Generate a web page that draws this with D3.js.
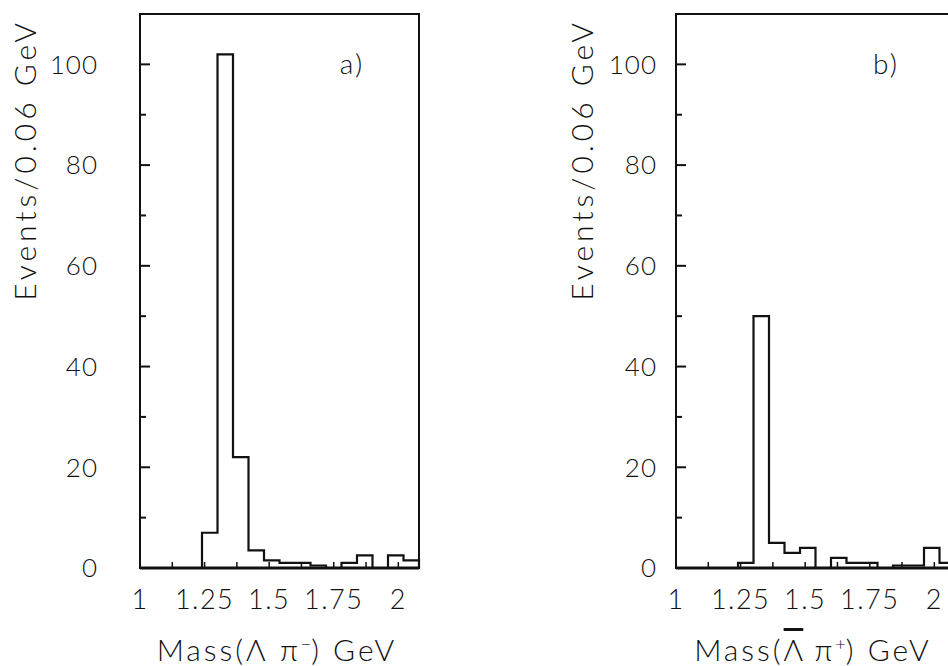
<!DOCTYPE html>
<html>
<head>
<meta charset="utf-8">
<script src="https://cdn.jsdelivr.net/npm/d3@7/dist/d3.min.js"></script>
<style>
  html, body { margin: 0; padding: 0; background: #fff; }
  svg { display: block; font-family: Lato, 'Open Sans', 'DejaVu Sans', sans-serif; font-weight: 300; }
</style>
</head>
<body>
<div id="chart"></div>
<script>
// bin lower edges (GeV), 0.06 GeV wide
const binLow = [1.00, 1.06, 1.12, 1.18, 1.24, 1.30, 1.36, 1.42, 1.48, 1.54,
                1.60, 1.66, 1.72, 1.78, 1.84, 1.90, 1.96, 2.02];
const binWidth = 0.06;

// a) Lambda pi-   b) anti-Lambda pi+
const countsA = [0, 0, 0, 0, 7, 102, 22, 3.5, 1.5, 1, 1, 0.5, 0, 1, 2.5, 0, 2.5, 1.5];
const countsB = [0, 0, 0, 0, 1, 50, 5, 3, 4, 0, 2, 1, 1, 0, 0.5, 0.5, 4, 1];

const yMajor = [0, 20, 40, 60, 80, 100];
const yMinor = [10, 30, 50, 70, 90];
const xLabels = [1, 1.25, 1.5, 1.75, 2];
const xTicks = [1.125, 1.25, 1.375, 1.5, 1.625, 1.75, 1.875, 2];

const W = 948, H = 666;
const plotTop = 14, plotBottom = 568, plotW = 279;

const panels = [
  { left: 140, counts: countsA, tag: 'a)', tagX: 352, labelGap: 42, titleX: 25,
    xTitle: [{ t: 'Mass(\u039B \u03C0' }, { t: '\u2212', sup: true }, { t: ') GeV' }] },
  { left: 676, counts: countsB, tag: 'b)', tagX: 886, labelGap: 19, titleX: 582,
    xTitle: [{ t: 'Mass(' }, { t: '\u039B', over: true }, { t: ' \u03C0' },
             { t: '+', sup: true }, { t: ') GeV' }] },
];

const svg = d3.select('#chart').append('svg')
  .attr('width', W).attr('height', H);

const y = d3.scaleLinear().domain([0, 110]).range([plotBottom, plotTop]);

panels.forEach(p => {
  const x = d3.scaleLinear().domain([1.0, 2.08]).range([p.left, p.left + plotW]);
  const g = svg.append('g');

  // frame
  g.append('rect')
    .attr('x', x(1.0)).attr('y', y(110))
    .attr('width', x(2.08) - x(1.0)).attr('height', y(0) - y(110))
    .attr('fill', 'none').attr('stroke', '#111').attr('stroke-width', 2);

  // y ticks (inward)
  g.selectAll('.ymaj').data(yMajor).join('line')
    .attr('x1', x(1.0)).attr('x2', x(1.0) + 10)
    .attr('y1', d => y(d)).attr('y2', d => y(d))
    .attr('stroke', '#111').attr('stroke-width', 2);
  g.selectAll('.ymin').data(yMinor).join('line')
    .attr('x1', x(1.0)).attr('x2', x(1.0) + 6)
    .attr('y1', d => y(d)).attr('y2', d => y(d))
    .attr('stroke', '#111').attr('stroke-width', 2);

  g.selectAll('.ylab').data(yMajor).join('text')
    .attr('x', x(1.0) - p.labelGap).attr('y', d => y(d))
    .attr('dy', '0.36em').attr('text-anchor', 'end')
    .style('font-size', '26px').style('letter-spacing', '1px').attr('fill', '#111')
    .text(d => d);

  // x ticks (inward)
  g.selectAll('.xt').data(xTicks).join('line')
    .attr('x1', d => x(d)).attr('x2', d => x(d))
    .attr('y1', y(0)).attr('y2', y(0) - 6)
    .attr('stroke', '#111').attr('stroke-width', 1.5);

  g.selectAll('.xlab').data(xLabels).join('text')
    .attr('x', d => x(d)).attr('y', 609)
    .attr('text-anchor', 'middle')
    .style('font-size', '27px').style('letter-spacing', '1.5px').attr('fill', '#111')
    .text(d => d);

  // histogram
  const pts = [[binLow[0], 0]];
  binLow.forEach((lo, i) => pts.push([lo, p.counts[i]]));
  const hi = binLow[binLow.length - 1] + binWidth;
  pts.push([hi, p.counts[p.counts.length - 1]]);
  pts.push([hi, 0]);
  const line = d3.line().x(d => x(d[0])).y(d => y(d[1])).curve(d3.curveStepAfter);
  g.append('path').attr('d', line(pts))
    .attr('fill', 'none').attr('stroke', '#111').attr('stroke-width', 2.2);

  // baseline a bit heavier
  g.append('line')
    .attr('x1', x(1.0)).attr('x2', x(2.08))
    .attr('y1', y(0)).attr('y2', y(0))
    .attr('stroke', '#111').attr('stroke-width', 3);

  // panel tag
  g.append('text').attr('x', p.tagX).attr('y', y(100))
    .attr('dy', '0.36em').attr('text-anchor', 'middle')
    .style('font-size', '28px').style('letter-spacing', '2px').attr('fill', '#111')
    .text(p.tag);

  // y title
  g.append('text')
    .attr('transform', `translate(${p.titleX},${160}) rotate(-90)`)
    .attr('dy', '0.36em').attr('text-anchor', 'middle')
    .style('font-size', '30px').style('letter-spacing', '4px').attr('fill', '#111')
    .text('Events/0.06 GeV');

  // x title
  const t = g.append('text')
    .attr('x', x(1.53)).attr('y', 661)
    .attr('text-anchor', 'middle')
    .style('font-size', '30px').style('letter-spacing', '3px').attr('fill', '#111');
  let raised = false;
  p.xTitle.forEach(s => {
    const ts = t.append('tspan').text(s.t);
    if (s.sup) {
      ts.attr('dy', -11).style('font-size', '18px').style('letter-spacing', '0px');
      raised = true;
    } else if (raised) {
      ts.attr('dy', 11);
      raised = false;
    }
    if (s.over) ts.style('text-decoration', 'overline').style('letter-spacing', '0px');
  });
});
</script>
</body>
</html>
